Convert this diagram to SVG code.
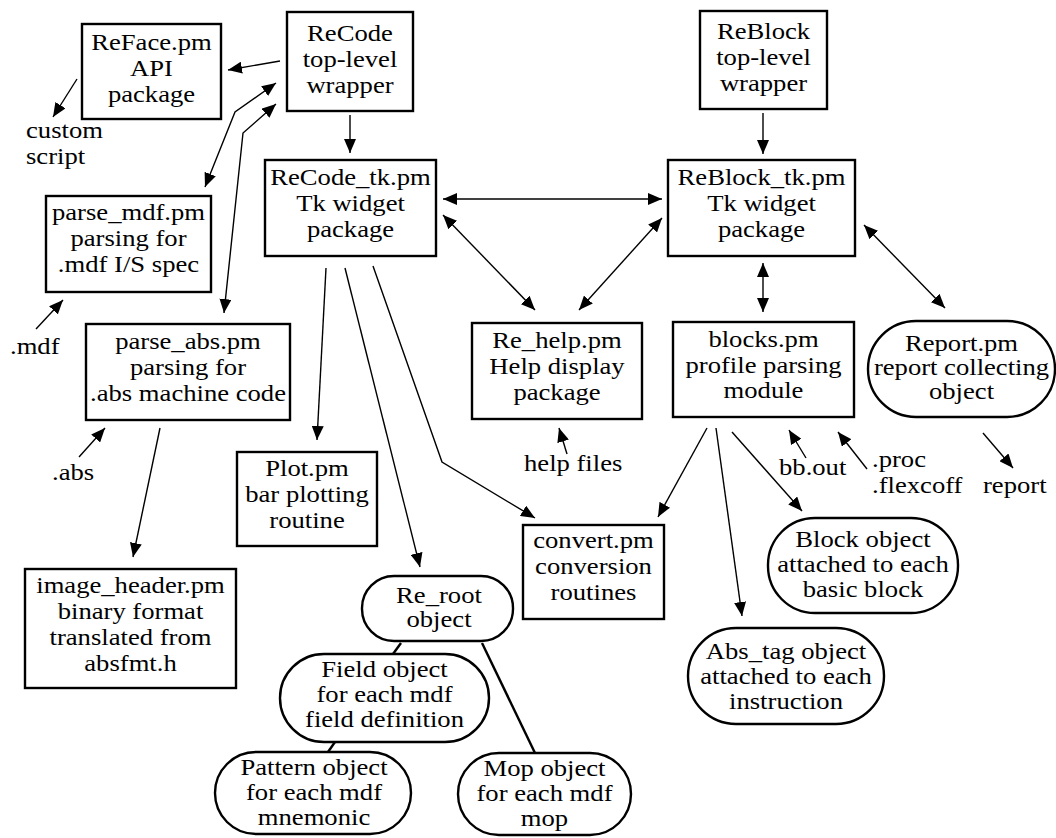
<svg xmlns="http://www.w3.org/2000/svg" width="1056" height="838" viewBox="0 0 1056 838">
  <style>
    .box { fill: #fff; stroke: #000; stroke-width: 2.4; }
    .edge { fill: none; stroke: #000; stroke-width: 1.4; }
    .tree { fill: none; stroke: #000; stroke-width: 2.4; }
    .t { font-family: "Liberation Serif", "Times New Roman", serif; font-size: 24px; fill: #000; text-anchor: middle; }
    .l { font-family: "Liberation Serif", "Times New Roman", serif; font-size: 24px; fill: #000; text-anchor: start; }
  </style>
  <defs>
    <marker id="ah" viewBox="0 0 14 12" refX="14" refY="6" markerWidth="14" markerHeight="12" markerUnits="userSpaceOnUse" orient="auto-start-reverse">
      <path d="M0,0 L14,6 L0,12 z" fill="#000"/>
    </marker>
  </defs>
  <rect width="1056" height="838" fill="#fff"/>

  <!-- connectors -->
  <g id="connectors">
    <path class="edge" d="M280,61 L228,70" marker-end="url(#ah)"/>
    <path class="edge" d="M77,79 L53,117" marker-end="url(#ah)"/>
    <path class="edge" d="M276,83 L235,112 L205,187" marker-start="url(#ah)" marker-end="url(#ah)"/>
    <path class="edge" d="M276,104 L243,133 L224,313" marker-start="url(#ah)" marker-end="url(#ah)"/>
    <path class="edge" d="M350,115 L350,153" marker-end="url(#ah)"/>
    <path class="edge" d="M763,113 L763,154" marker-end="url(#ah)"/>
    <path class="edge" d="M443,199 L662,199" marker-start="url(#ah)" marker-end="url(#ah)"/>
    <path class="edge" d="M443,215 L535,310" marker-start="url(#ah)" marker-end="url(#ah)"/>
    <path class="edge" d="M662,218 L579,310" marker-start="url(#ah)" marker-end="url(#ah)"/>
    <path class="edge" d="M763,263 L763,312" marker-start="url(#ah)" marker-end="url(#ah)"/>
    <path class="edge" d="M864,225 L945,308" marker-start="url(#ah)" marker-end="url(#ah)"/>
    <path class="edge" d="M326,268 L317,440" marker-end="url(#ah)"/>
    <path class="edge" d="M345,268 L420,567" marker-end="url(#ah)"/>
    <path class="edge" d="M373,266 L442,462 L535,518" marker-end="url(#ah)"/>
    <path class="edge" d="M160,428 L133,557" marker-end="url(#ah)"/>
    <path class="edge" d="M36,329 L63,300" marker-end="url(#ah)"/>
    <path class="edge" d="M79,457 L105,428" marker-end="url(#ah)"/>
    <path class="edge" d="M567,454 L559,428" marker-end="url(#ah)"/>
    <path class="edge" d="M707,428 L658,517" marker-end="url(#ah)"/>
    <path class="edge" d="M716,428 L742,616" marker-end="url(#ah)"/>
    <path class="edge" d="M732,432 L802,511" marker-end="url(#ah)"/>
    <path class="edge" d="M806,458 L789,430" marker-end="url(#ah)"/>
    <path class="edge" d="M867,469 L838,432" marker-end="url(#ah)"/>
    <path class="edge" d="M983,433 L1013,468" marker-end="url(#ah)"/>
    <!-- object tree links -->
    <path class="tree" d="M401,643 L393,654"/>
    <path class="tree" d="M482,643 L535,753"/>
    <path class="tree" d="M335,742 L328,752"/>
  </g>

  <!-- boxes -->
  <g id="reface">
    <rect class="box" x="82" y="24" width="139" height="95"/>
    <text class="t" transform="matrix(1.11 0 0 1 151.5 0)"><tspan x="0" y="50">ReFace.pm</tspan><tspan x="0" y="76">API</tspan><tspan x="0" y="102">package</tspan></text>
  </g>
  <g id="recode">
    <rect class="box" x="287" y="12" width="126" height="99"/>
    <text class="t" transform="matrix(1.11 0 0 1 350 0)"><tspan x="0" y="41">ReCode</tspan><tspan x="0" y="67">top-level</tspan><tspan x="0" y="93">wrapper</tspan></text>
  </g>
  <g id="reblock">
    <rect class="box" x="700" y="11" width="127" height="98"/>
    <text class="t" transform="matrix(1.11 0 0 1 763.5 0)"><tspan x="0" y="39">ReBlock</tspan><tspan x="0" y="65">top-level</tspan><tspan x="0" y="91">wrapper</tspan></text>
  </g>
  <g id="recode-tk">
    <rect class="box" x="265" y="160" width="171" height="96"/>
    <text class="t" transform="matrix(1.11 0 0 1 350.5 0)"><tspan x="0" y="185">ReCode_tk.pm</tspan><tspan x="0" y="211">Tk widget</tspan><tspan x="0" y="237">package</tspan></text>
  </g>
  <g id="reblock-tk">
    <rect class="box" x="668" y="160" width="187" height="96"/>
    <text class="t" transform="matrix(1.11 0 0 1 761.5 0)"><tspan x="0" y="185">ReBlock_tk.pm</tspan><tspan x="0" y="211">Tk widget</tspan><tspan x="0" y="237">package</tspan></text>
  </g>
  <g id="parse-mdf">
    <rect class="box" x="46" y="196" width="165" height="96"/>
    <text class="t" transform="matrix(1.11 0 0 1 128.5 0)"><tspan x="0" y="220">parse_mdf.pm</tspan><tspan x="0" y="246">parsing for</tspan><tspan x="0" y="272">.mdf I/S spec</tspan></text>
  </g>
  <g id="parse-abs">
    <rect class="box" x="86" y="324" width="204" height="96"/>
    <text class="t" transform="matrix(1.11 0 0 1 188 0)"><tspan x="0" y="349">parse_abs.pm</tspan><tspan x="0" y="375">parsing for</tspan><tspan x="0" y="401">.abs machine code</tspan></text>
  </g>
  <g id="plot">
    <rect class="box" x="237" y="452" width="140" height="94"/>
    <text class="t" transform="matrix(1.11 0 0 1 307 0)"><tspan x="0" y="476">Plot.pm</tspan><tspan x="0" y="502">bar plotting</tspan><tspan x="0" y="528">routine</tspan></text>
  </g>
  <g id="re-help">
    <rect class="box" x="472" y="323" width="170" height="96"/>
    <text class="t" transform="matrix(1.11 0 0 1 557 0)"><tspan x="0" y="348">Re_help.pm</tspan><tspan x="0" y="374">Help display</tspan><tspan x="0" y="400">package</tspan></text>
  </g>
  <g id="blocks">
    <rect class="box" x="673" y="322" width="181" height="95"/>
    <text class="t" transform="matrix(1.11 0 0 1 763.5 0)"><tspan x="0" y="347">blocks.pm</tspan><tspan x="0" y="373">profile parsing</tspan><tspan x="0" y="398">module</tspan></text>
  </g>
  <g id="report-pm">
    <rect class="box" x="868" y="321" width="187" height="96" rx="48" ry="48"/>
    <text class="t" transform="matrix(1.11 0 0 1 961.5 0)"><tspan x="0" y="351">Report.pm</tspan><tspan x="0" y="375">report collecting</tspan><tspan x="0" y="399">object</tspan></text>
  </g>
  <g id="convert">
    <rect class="box" x="523" y="525" width="141" height="94"/>
    <text class="t" transform="matrix(1.11 0 0 1 593.5 0)"><tspan x="0" y="548">convert.pm</tspan><tspan x="0" y="574">conversion</tspan><tspan x="0" y="600">routines</tspan></text>
  </g>
  <g id="image-header">
    <rect class="box" x="25" y="569" width="211" height="119"/>
    <text class="t" transform="matrix(1.11 0 0 1 130.5 0)"><tspan x="0" y="593">image_header.pm</tspan><tspan x="0" y="619">binary format</tspan><tspan x="0" y="645">translated from</tspan><tspan x="0" y="671">absfmt.h</tspan></text>
  </g>
  <g id="block-object">
    <rect class="box" x="768" y="518" width="190" height="95" rx="47" ry="47"/>
    <text class="t" transform="matrix(1.11 0 0 1 863 0)"><tspan x="0" y="547">Block object</tspan><tspan x="0" y="572">attached to each</tspan><tspan x="0" y="597">basic block</tspan></text>
  </g>
  <g id="abs-tag">
    <rect class="box" x="688" y="628" width="196" height="96" rx="48" ry="48"/>
    <text class="t" transform="matrix(1.11 0 0 1 786 0)"><tspan x="0" y="659">Abs_tag object</tspan><tspan x="0" y="684">attached to each</tspan><tspan x="0" y="709">instruction</tspan></text>
  </g>
  <g id="re-root">
    <rect class="box" x="362" y="576" width="151" height="65" rx="32" ry="32"/>
    <text class="t" transform="matrix(1.11 0 0 1 439 0)"><tspan x="0" y="603">Re_root</tspan><tspan x="0" y="627">object</tspan></text>
  </g>
  <g id="field-object">
    <rect class="box" x="280" y="654" width="209" height="88" rx="44" ry="44"/>
    <text class="t" transform="matrix(1.11 0 0 1 384.5 0)"><tspan x="0" y="677">Field object</tspan><tspan x="0" y="702">for each mdf</tspan><tspan x="0" y="727">field definition</tspan></text>
  </g>
  <g id="pattern-object">
    <rect class="box" x="215" y="752" width="196" height="82" rx="41" ry="41"/>
    <text class="t" transform="matrix(1.11 0 0 1 314 0)"><tspan x="0" y="775">Pattern object</tspan><tspan x="0" y="800">for each mdf</tspan><tspan x="0" y="825">mnemonic</tspan></text>
  </g>
  <g id="mop-object">
    <rect class="box" x="458" y="753" width="173" height="82" rx="41" ry="41"/>
    <text class="t" transform="matrix(1.11 0 0 1 544.5 0)"><tspan x="0" y="776">Mop object</tspan><tspan x="0" y="801">for each mdf</tspan><tspan x="0" y="826">mop</tspan></text>
  </g>

  <!-- external files -->
  <g id="ext-custom-script">
    <text class="l" transform="matrix(1.11 0 0 1 26 0)"><tspan x="0" y="138">custom</tspan><tspan x="0" y="164">script</tspan></text>
  </g>
  <g id="ext-mdf"><text class="l" transform="matrix(1.11 0 0 1 10 0)" y="354">.mdf</text></g>
  <g id="ext-abs"><text class="l" transform="matrix(1.11 0 0 1 52 0)" y="480">.abs</text></g>
  <g id="ext-help-files"><text class="l" transform="matrix(1.11 0 0 1 524 0)" y="471">help files</text></g>
  <g id="ext-bb-out"><text class="l" transform="matrix(1.11 0 0 1 779 0)" y="475">bb.out</text></g>
  <g id="ext-proc">
    <text class="l" transform="matrix(1.11 0 0 1 872 0)"><tspan x="0" y="467">.proc</tspan><tspan x="0" y="493">.flexcoff</tspan></text>
  </g>
  <g id="ext-report"><text class="l" transform="matrix(1.11 0 0 1 983 0)" y="493">report</text></g>
</svg>
